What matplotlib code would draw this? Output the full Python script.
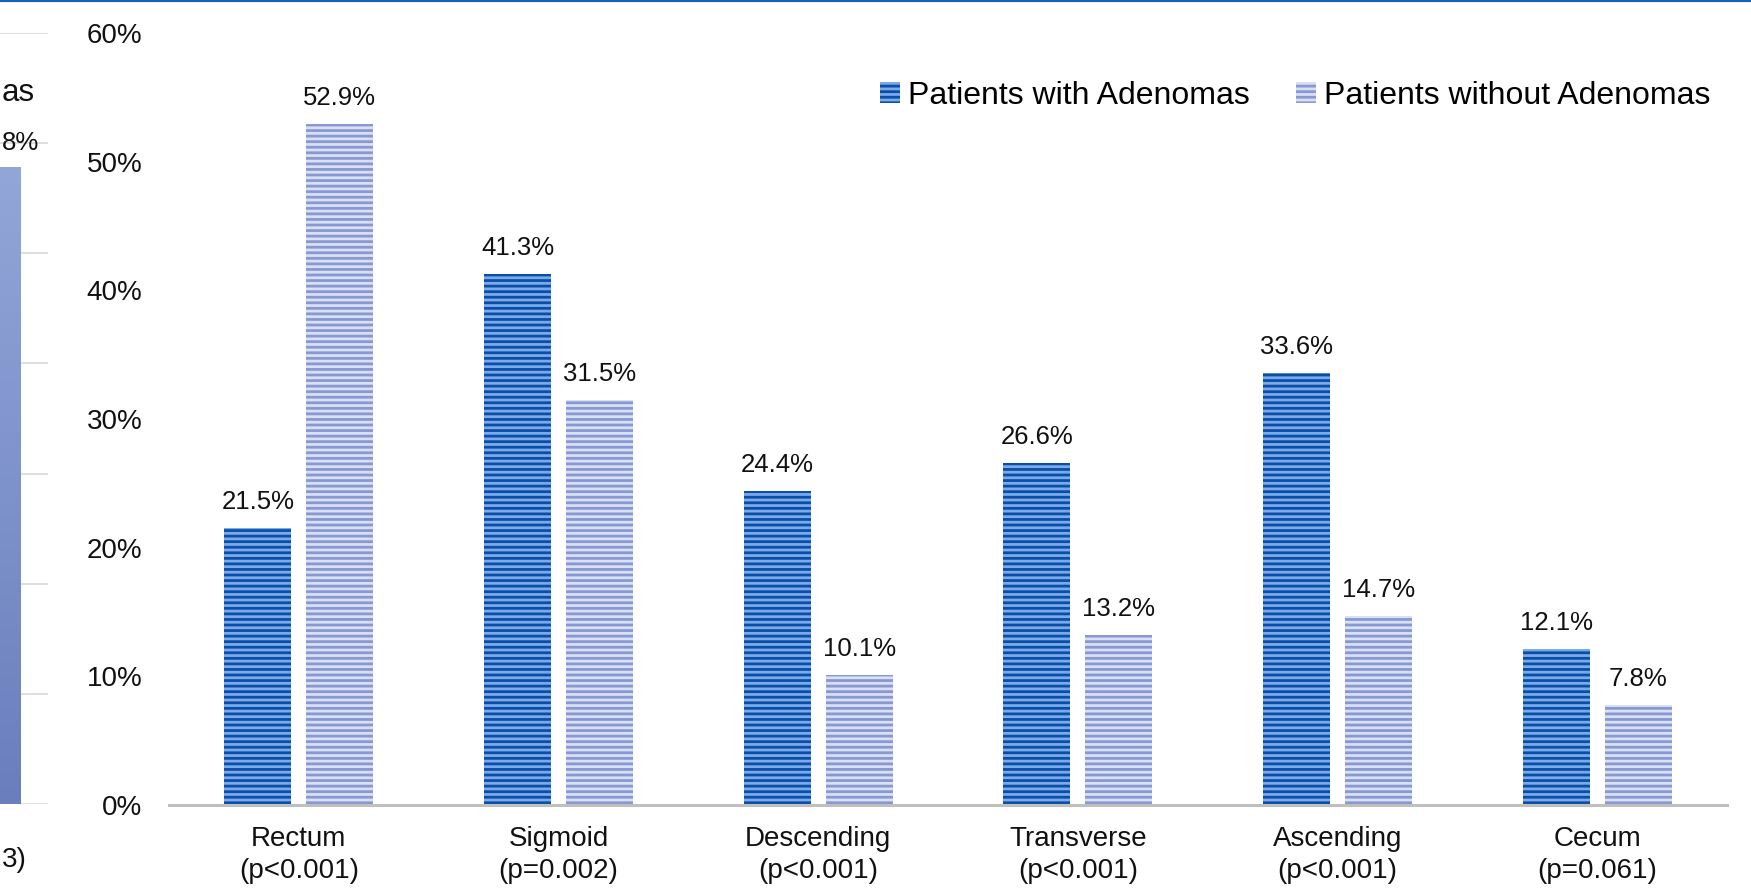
import numpy as np
import matplotlib
matplotlib.use('Agg')
import matplotlib.pyplot as plt
from matplotlib.lines import Line2D
from matplotlib.colors import LinearSegmentedColormap
from matplotlib.ticker import PercentFormatter

plt.rcParams['font.family'] = ['Liberation Sans', 'DejaVu Sans']
plt.rcParams['hatch.linewidth'] = 2.0

# data (percent of patients)
categories = ['Rectum\n(p<0.001)', 'Sigmoid\n(p=0.002)', 'Descending\n(p<0.001)',
              'Transverse\n(p<0.001)', 'Ascending\n(p<0.001)', 'Cecum\n(p=0.061)']
with_adenomas = [21.5, 41.3, 24.4, 26.6, 33.6, 12.1]
without_adenomas = [52.9, 31.5, 10.1, 13.2, 14.7, 7.8]
series_names = ['Patients with Adenomas', 'Patients without Adenomas']

# leftover piece of the neighbouring panel (cut off at the left edge)
left_panel_value = [57.8]
left_panel_ticks = [0, 10, 20, 30, 40, 50, 60, 70]
left_panel_texts = ['as', '8%', '3)']   # only these parts are visible

W, H = 1751, 888
fig = plt.figure(figsize=(W / 100, H / 100), dpi=100)

# ---- main chart
ax = fig.add_axes([169 / W, 1 - 805 / H, 1558 / W, (805 - 33) / H])
x = np.arange(len(categories))
bw = 0.258
off = 0.158

b1 = ax.bar(x - off, with_adenomas, bw, facecolor='#7aaaea', edgecolor='#0b4ea6',
            hatch='---', linewidth=0, label=series_names[0])
b2 = ax.bar(x + off, without_adenomas, bw, facecolor='#dae0f3', edgecolor='#8798d2',
            hatch='---', linewidth=0, label=series_names[1])

for bars, vals in ((b1, with_adenomas), (b2, without_adenomas)):
    for rect, v in zip(bars, vals):
        ax.annotate(f'{v:.1f}%', (rect.get_x() + rect.get_width() / 2, v),
                    xytext=(0, 10), textcoords='offset points',
                    ha='center', va='bottom', fontsize=18.5, color='#111111')

ax.set_xlim(-0.5, len(categories) - 0.5)
ax.set_ylim(0, 60)
ax.set_yticks(np.arange(0, 61, 10))
ax.yaxis.set_major_formatter(PercentFormatter(decimals=0))
ax.set_xticks(x)
ax.set_xticklabels(categories, linespacing=1.3)
ax.tick_params(axis='y', length=0, pad=19, labelsize=20, labelcolor='#111111')
ax.tick_params(axis='x', length=0, pad=15, labelsize=20, labelcolor='#111111')
for s in ('top', 'right', 'left'):
    ax.spines[s].set_visible(False)
ax.spines['bottom'].set_color('#bfbfbf')
ax.spines['bottom'].set_linewidth(2.2)

ax.legend(loc='center right', bbox_to_anchor=(1710 / W, 1 - 96 / H),
          bbox_transform=fig.transFigure, ncol=2, frameon=False,
          fontsize=23, handlelength=0.62, handleheight=0.62,
          handletextpad=0.25, columnspacing=1.45, borderpad=0, borderaxespad=0)

# ---- piece of the left panel
axl = fig.add_axes([-150 / W, 1 - 804 / H, 198 / W, (804 - 33) / H])
axl.set_yticks(left_panel_ticks)
axl.grid(axis='y', color='#d9d9d9', linewidth=1.2)
axl.set_axisbelow(True)
lb = axl.bar([0], left_panel_value, 0.709, color='#8094cc', linewidth=0)
grad = np.linspace(0, 1, 256).reshape(-1, 1)
cm = LinearSegmentedColormap.from_list('lb', ['#6a7ebd', '#93a6d8'])
r = lb[0]
im = axl.imshow(grad, cmap=cm, origin='lower', aspect='auto',
                extent=(r.get_x(), r.get_x() + r.get_width(), 0, left_panel_value[0]),
                zorder=3)
im.set_clip_path(r)
axl.set_xlim(-1.2, 0.6)
axl.set_ylim(0, 70)
axl.set_xticks([])
axl.tick_params(axis='y', length=0, labelleft=False)
for s in axl.spines.values():
    s.set_visible(False)

# fragments kept just inside the left edge
fig.text(2 / W, 1 - 93 / H, left_panel_texts[0], ha='left', va='center',
         fontsize=22.5, color='#111111')
fig.text(2 / W, 1 - 143 / H, left_panel_texts[1], ha='left', va='center',
         fontsize=18.5, color='#111111')
fig.text(2 / W, 1 - 860 / H, left_panel_texts[2], ha='left', va='center',
         fontsize=20, color='#111111')

# thin blue rule along the top edge
fig.add_artist(Line2D([0, 1], [1 - 1 / H, 1 - 1 / H], transform=fig.transFigure,
                      color='#1560bd', linewidth=1.6))

fig.savefig('out.png', dpi=100)
